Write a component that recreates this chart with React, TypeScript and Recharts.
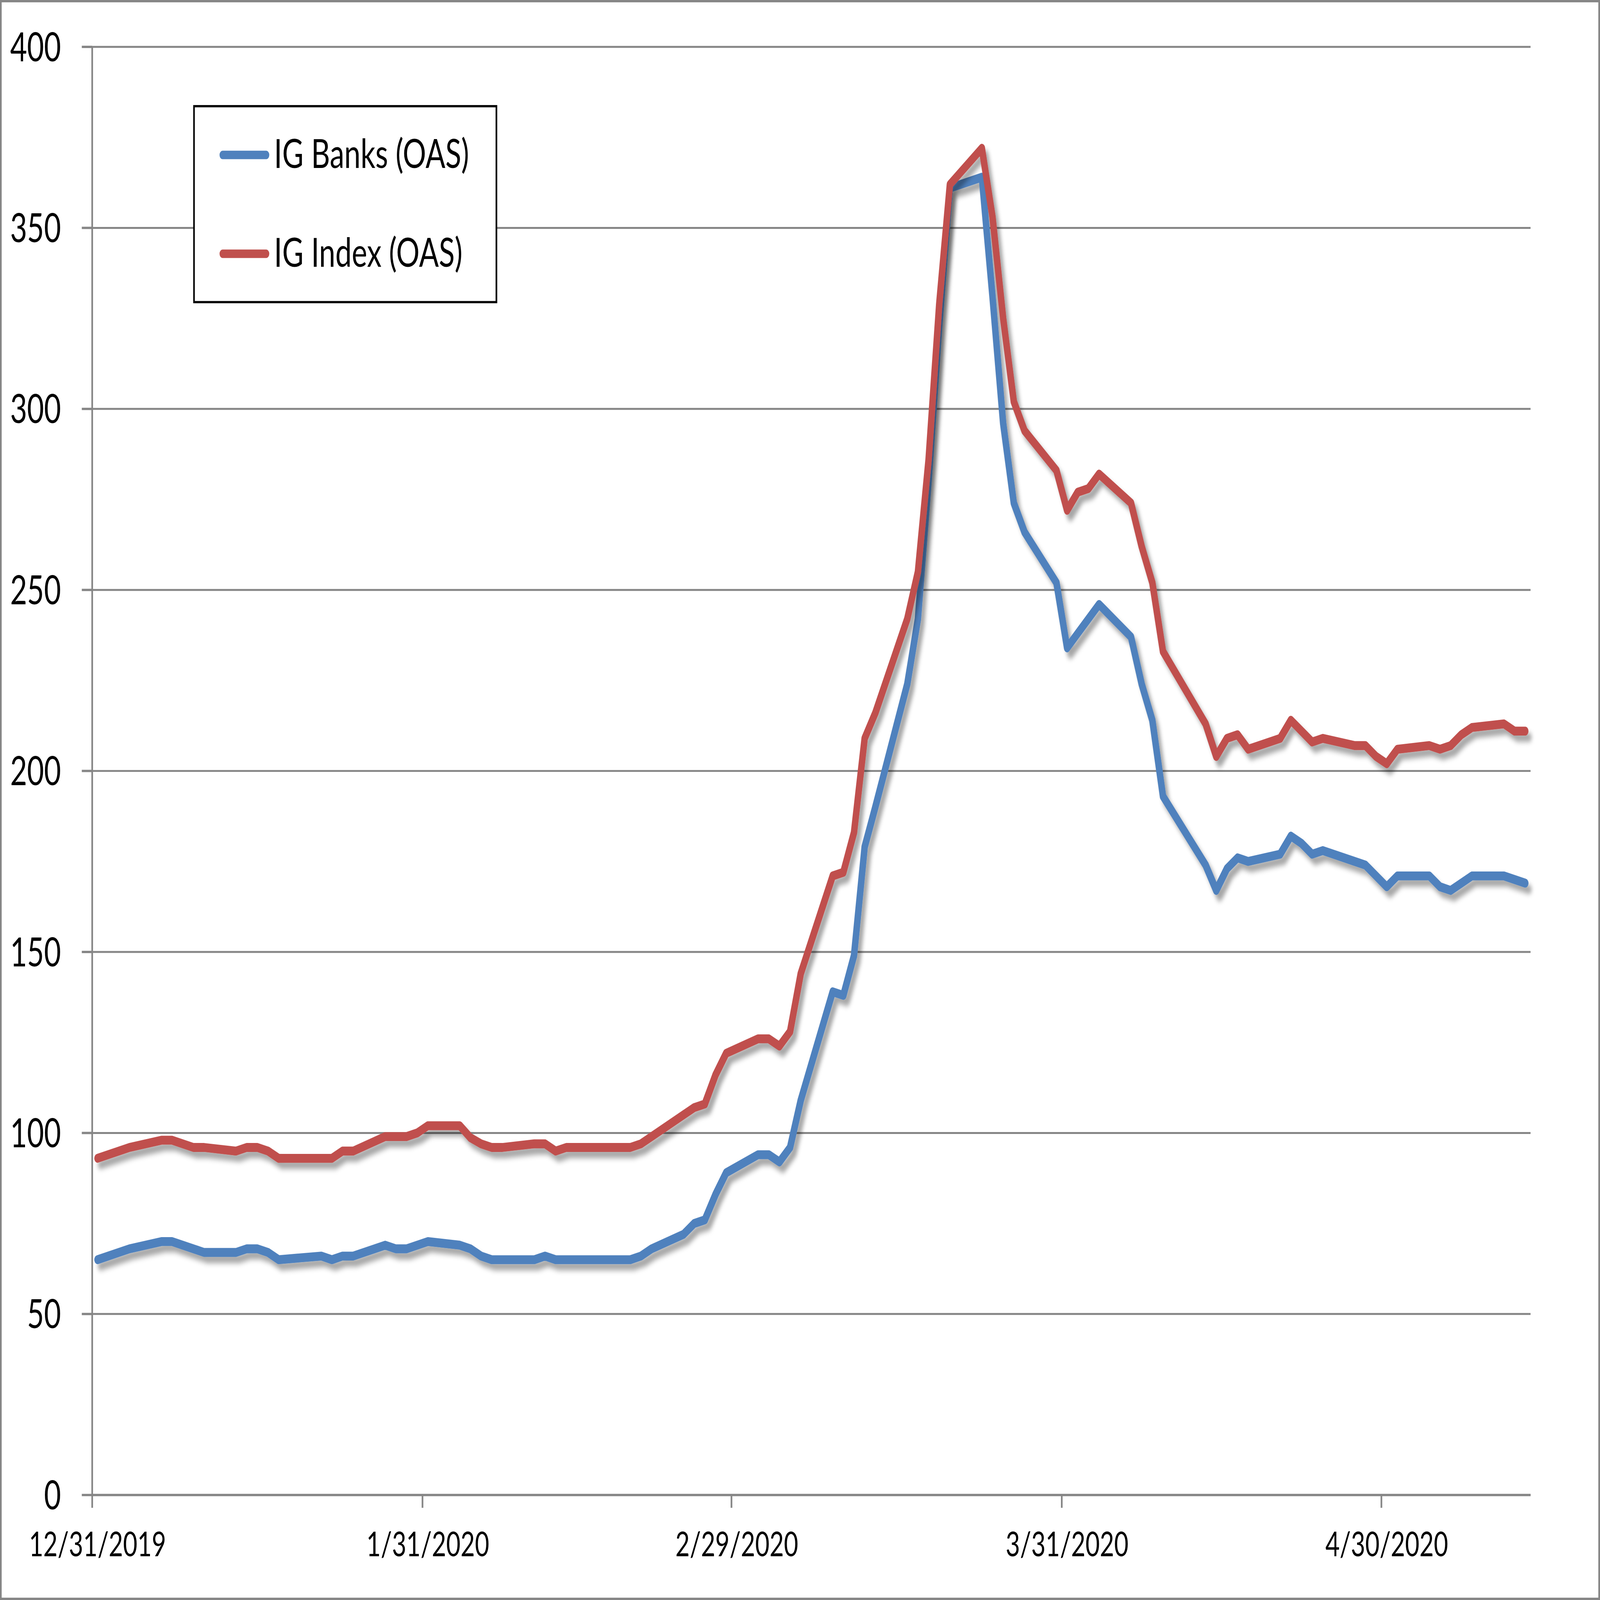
import React from 'react';
import { LineChart, Line, XAxis, YAxis, CartesianGrid, Legend } from 'recharts';

const dates = [
  '12/31/2019', '1/2/2020', '1/3/2020', '1/6/2020', '1/7/2020', '1/8/2020', '1/9/2020', '1/10/2020',
  '1/13/2020', '1/14/2020', '1/15/2020', '1/16/2020', '1/17/2020', '1/21/2020', '1/22/2020', '1/23/2020',
  '1/24/2020', '1/27/2020', '1/28/2020', '1/29/2020', '1/30/2020', '1/31/2020', '2/3/2020', '2/4/2020',
  '2/5/2020', '2/6/2020', '2/7/2020', '2/10/2020', '2/11/2020', '2/12/2020', '2/13/2020', '2/14/2020',
  '2/18/2020', '2/19/2020', '2/20/2020', '2/21/2020', '2/24/2020', '2/25/2020', '2/26/2020', '2/27/2020',
  '2/28/2020', '3/2/2020', '3/3/2020', '3/4/2020', '3/5/2020', '3/6/2020', '3/9/2020', '3/10/2020',
  '3/11/2020', '3/12/2020', '3/13/2020', '3/16/2020', '3/17/2020', '3/18/2020', '3/19/2020', '3/20/2020',
  '3/23/2020', '3/24/2020', '3/25/2020', '3/26/2020', '3/27/2020', '3/30/2020', '3/31/2020', '4/1/2020',
  '4/2/2020', '4/3/2020', '4/6/2020', '4/7/2020', '4/8/2020', '4/9/2020', '4/13/2020', '4/14/2020',
  '4/15/2020', '4/16/2020', '4/17/2020', '4/20/2020', '4/21/2020', '4/22/2020', '4/23/2020', '4/24/2020',
  '4/27/2020', '4/28/2020', '4/29/2020', '4/30/2020', '5/1/2020', '5/4/2020', '5/5/2020', '5/6/2020',
  '5/7/2020', '5/8/2020', '5/11/2020', '5/12/2020', '5/13/2020',
];

const igBanks = [
  65, 67, 68, 70, 70, 69, 68, 67,
  67, 68, 68, 67, 65, 66, 65, 66,
  66, 69, 68, 68, 69, 70, 69, 68,
  66, 65, 65, 65, 66, 65, 65, 65,
  65, 65, 66, 68, 72, 75, 76, 83,
  89, 94, 94, 92, 96, 109, 139, 138,
  149, 179, 190, 224, 242, 280, 323, 361,
  364, 331, 296, 274, 266, 252, 234, 238,
  242, 246, 237, 224, 214, 193, 174, 167,
  173, 176, 175, 177, 182, 180, 177, 178,
  175, 174, 171, 168, 171, 171, 168, 167,
  169, 171, 171, 170, 169,
];

const igIndex = [
  93, 95, 96, 98, 98, 97, 96, 96,
  95, 96, 96, 95, 93, 93, 93, 95,
  95, 99, 99, 99, 100, 102, 102, 98.7,
  97, 96, 96, 97, 97, 95, 96, 96,
  96, 96, 97, 99, 105, 107, 108, 116,
  122, 126, 126, 124, 128, 144, 171, 172,
  183, 209, 216, 242, 255, 286, 329, 362,
  372, 353, 325, 302, 294, 283, 272, 277,
  278, 282, 274, 262, 252, 233, 213, 204,
  209, 210, 206, 209, 214, 211, 208, 209,
  207, 207, 204, 202, 206, 207, 206, 207,
  210, 212, 213, 211, 211,
];

const xTickLabels = ['12/31/2019', '1/31/2020', '2/29/2020', '3/31/2020', '4/30/2020'];
const yTicks = [0, 50, 100, 150, 200, 250, 300, 350, 400];

// design size (the reference); the browser window may be smaller, so the whole
// drawing is scaled to fit it
const W = 5692;
const H = 4130;
const PLOT_LEFT = 328;
const PLOT_RIGHT = 5445;
const PLOT_TOP = 121;
const PLOT_BOTTOM = 3859;
const GRAY = '#868686';

// days since 12/31/2019 (Excel date axis)
const dayNum = (s: string) => {
  const [m, d, y] = s.split('/').map(Number);
  return Math.round((Date.UTC(y, m - 1, d) - Date.UTC(2019, 11, 31)) / 86400000);
};

const data = dates.map((d, i) => ({ day: dayNum(d), banks: igBanks[i], index: igIndex[i] }));
const lastDay = dayNum(dates[dates.length - 1]);
const DAY_PX = (PLOT_RIGHT - PLOT_LEFT) / (lastDay + 1);
const xTicks = xTickLabels.map(dayNum);

const XTick = ({ x, y, payload }: any) => {
  const lx = x - DAY_PX / 2;
  const label = xTickLabels[xTicks.indexOf(payload.value)];
  return (
    <g>
      <line x1={lx} x2={lx} y1={y} y2={y + 33} stroke={GRAY} strokeWidth={6} />
      <text x={x} y={y + 158} textAnchor="middle" fontSize={88} fontFamily="Lato" fill="#000">
        {label}
      </text>
    </g>
  );
};

const LegendBox = ({ payload }: any) => (
  <svg width={1082} height={512} style={{ display: 'block' }}>
    <rect x={3} y={3} width={1076} height={506} fill="#fff" stroke="#000" strokeWidth={6} />
    {(payload || []).map((p: any, i: number) => (
      <g key={p.value}>
        <line x1={105} x2={260} y1={129 + i * 255} y2={129 + i * 255} stroke={p.color} strokeWidth={22} strokeLinecap="round" />
        <text x={288} y={163 + i * 255} fontSize={104} fontFamily="Lato" fill="#000">
          {p.value}
        </text>
      </g>
    ))}
  </svg>
);

const vw = typeof window !== 'undefined' && window.innerWidth ? window.innerWidth : W;
const vh = typeof window !== 'undefined' && window.innerHeight ? window.innerHeight : H;
const sx = Math.min(1, vw / W);
const sy = Math.min(1, vh / H);

const App = () => (
  <div style={{ width: W * sx, height: H * sy, overflow: 'hidden', background: '#fff' }}>
    <style>{`body { margin: 0; overflow: hidden; } .ig-line { filter: url(#igShadow); }`}</style>
    <svg width={0} height={0} style={{ position: 'absolute' }}>
      <defs>
        <filter id="igShadow" x="-5%" y="-5%" width="115%" height="115%">
          <feDropShadow dx={12} dy={16} stdDeviation={7} floodColor="#000" floodOpacity={0.35} />
        </filter>
      </defs>
    </svg>
    <div
      style={{
        position: 'relative',
        width: W,
        height: H,
        background: '#fff',
        transform: `scale(${sx}, ${sy})`,
        transformOrigin: '0 0',
      }}
    >
      <LineChart width={W} height={H} data={data} margin={{ top: PLOT_TOP, right: W - PLOT_RIGHT, bottom: 0, left: 0 }}>
        <CartesianGrid vertical={false} stroke={GRAY} strokeWidth={5} />
        <XAxis
          dataKey="day"
          type="number"
          domain={[-0.5, lastDay + 0.5]}
          ticks={xTicks}
          interval={0}
          height={H - PLOT_BOTTOM}
          tickSize={0}
          tickMargin={0}
          tick={<XTick />}
          axisLine={{ stroke: GRAY, strokeWidth: 6 }}
        />
        <YAxis
          domain={[0, 400]}
          ticks={yTicks}
          interval={0}
          width={PLOT_LEFT}
          tickSize={37}
          tickMargin={74}
          tick={{ fontSize: 104, fontFamily: 'Lato', fill: '#000' }}
          tickLine={{ stroke: GRAY, strokeWidth: 6 }}
          axisLine={{ stroke: GRAY, strokeWidth: 6 }}
        />
        <Legend
          layout="vertical"
          align="center"
          verticalAlign="middle"
          content={<LegendBox />}
          wrapperStyle={{ left: 687, top: 271, width: 1082, height: 512 }}
        />
        <Line
          className="ig-line"
          type="linear"
          dataKey="banks"
          name="IG Banks (OAS)"
          stroke="#4F81BD"
          strokeWidth={23}
          strokeLinejoin="round"
          strokeLinecap="round"
          dot={false}
          activeDot={false}
          isAnimationActive={false}
        />
        <Line
          className="ig-line"
          type="linear"
          dataKey="index"
          name="IG Index (OAS)"
          stroke="#C0504D"
          strokeWidth={23}
          strokeLinejoin="round"
          strokeLinecap="round"
          dot={false}
          activeDot={false}
          isAnimationActive={false}
        />
      </LineChart>
      <div
        style={{
          position: 'absolute',
          left: 0,
          top: 0,
          width: W,
          height: H,
          boxSizing: 'border-box',
          border: `6px solid ${GRAY}`,
          pointerEvents: 'none',
        }}
      />
    </div>
  </div>
);

export default App;
